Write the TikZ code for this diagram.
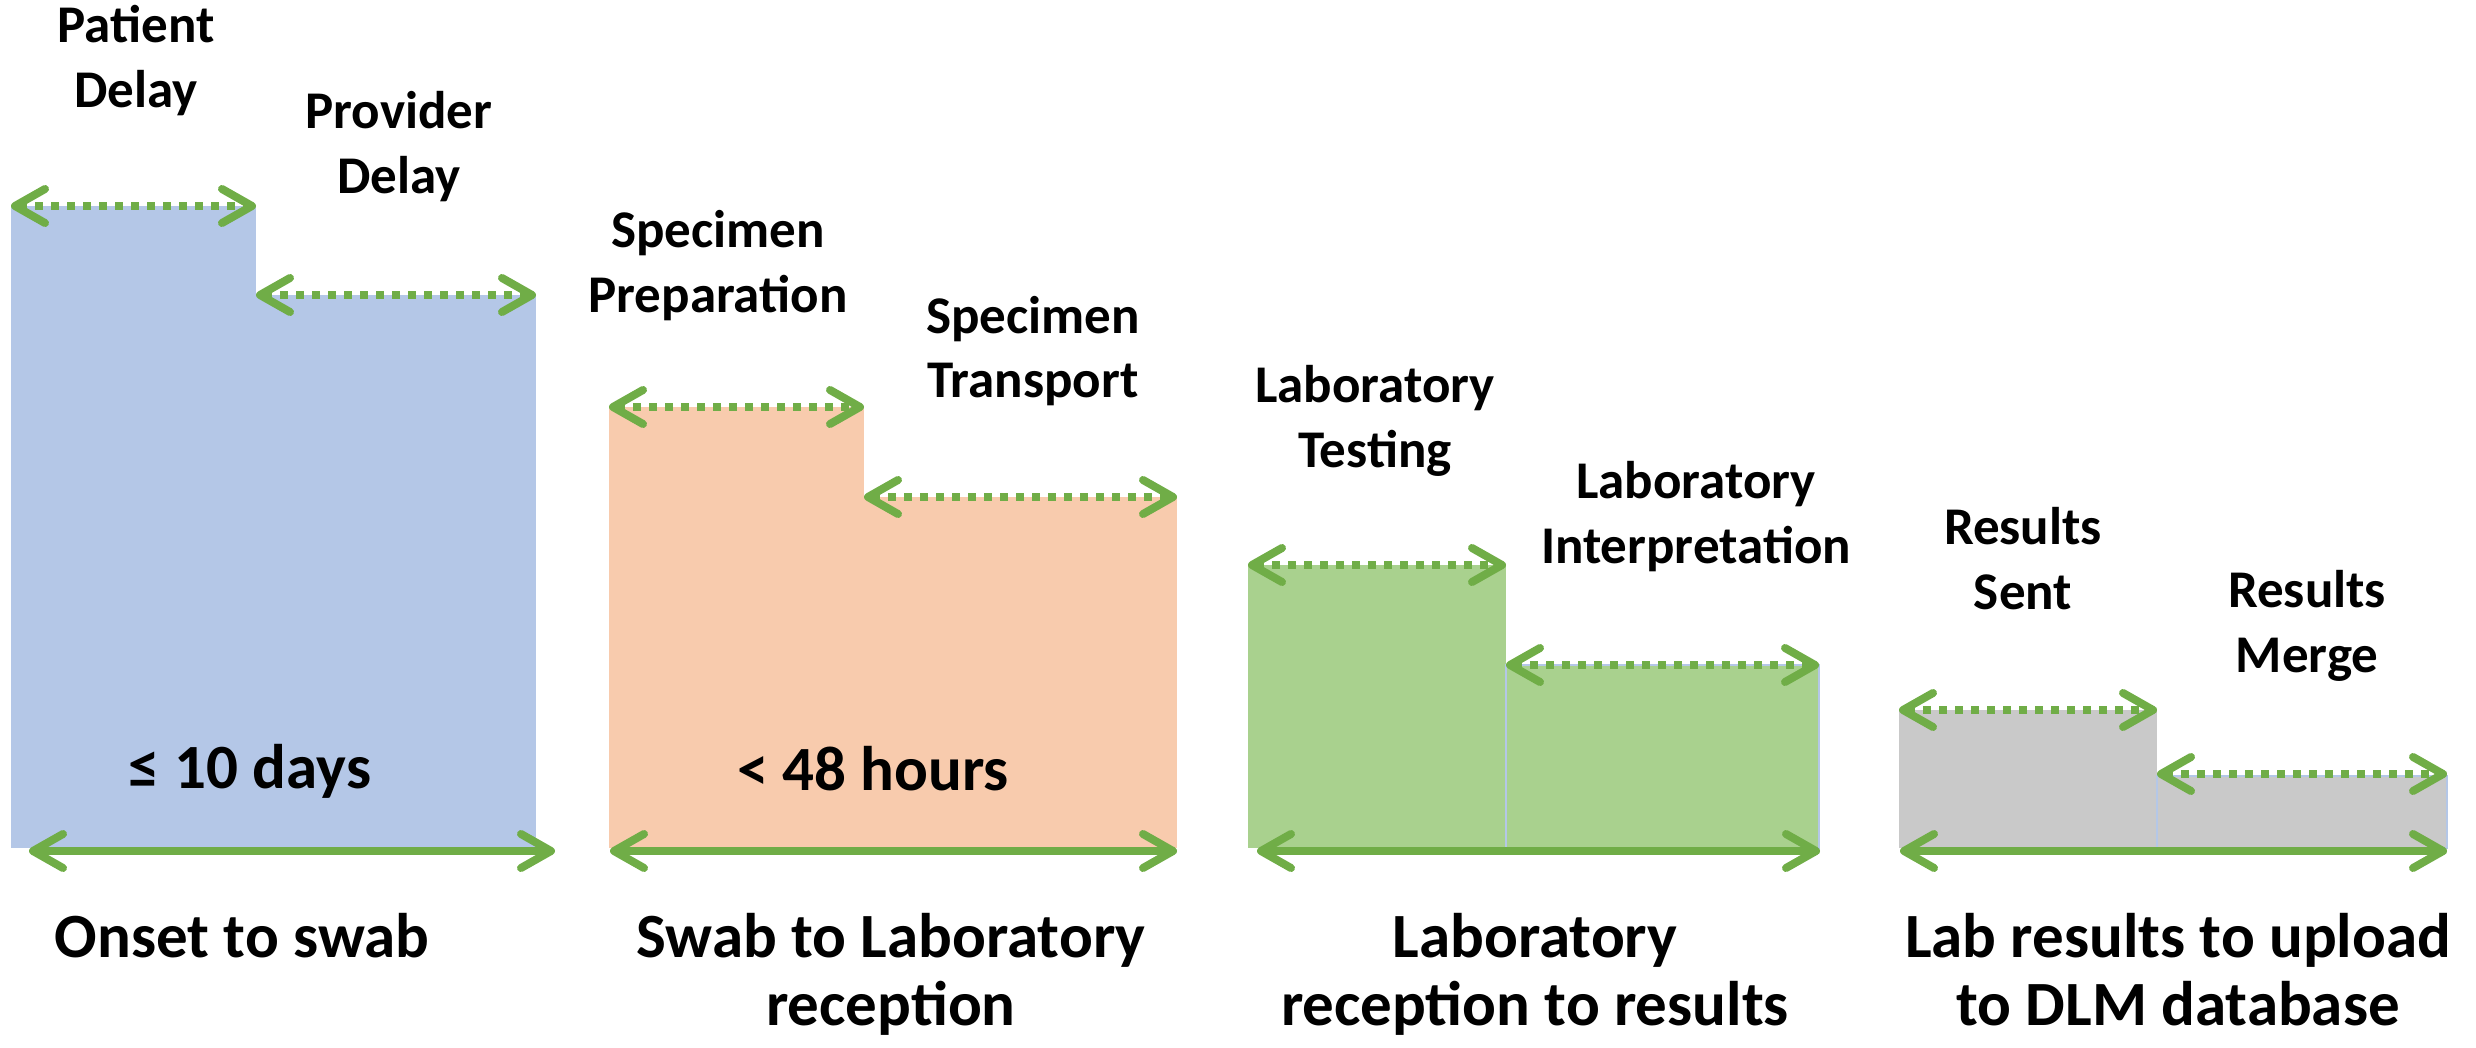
\documentclass[tikz,border=0pt]{standalone}
\usepackage{fontspec}
\setmainfont{Carlito}
\usetikzlibrary{arrows.meta}
\definecolor{blueF}{HTML}{B4C7E7}
\definecolor{orangeF}{HTML}{F8CBAD}
\definecolor{greenF}{HTML}{A9D18E}
\definecolor{grayF}{HTML}{C9C9C9}
\definecolor{arrowG}{HTML}{70AD47}
\definecolor{edgeB}{HTML}{B4C7E7}

\begin{document}
\begin{tikzpicture}[x=1pt,y=-1pt,
  barb/.tip={Straight Barb[length=30pt,width=34pt,round]},
  span/.style={draw=arrowG, line width=8pt, barb-barb},
  subspan/.style={span, dash pattern=on 8pt off 8pt},
  % multi-line labels are anchored on the baseline of their last line
  steplabel/.style={font=\fontsize{53}{65}\selectfont\bfseries, align=center, anchor=base, inner sep=0pt},
  grouplabel/.style={font=\fontsize{63}{68}\selectfont\bfseries, align=center, anchor=base, inner sep=0pt},
  bound/.style={font=\fontsize{63}{76}\selectfont\bfseries, anchor=base, inner sep=0pt},
  edged/.style={draw=edgeB, line width=1.5pt},
]
\useasboundingbox (0,0) rectangle (2476,1048);

% ---------- stepped bars ----------
% onset to swab
\fill[blueF] (11,206) rectangle (256,848);
\fill[blueF] (256,295) rectangle (536,848);
% swab to laboratory
\fill[orangeF] (609,407) rectangle (864,848);
\fill[orangeF] (864,497) rectangle (1177,848);
% laboratory
\fill[greenF] (1248,565) rectangle (1506,848);
\filldraw[fill=greenF, edged] (1506,665) rectangle (1819,848);
% results
\fill[grayF] (1899,710) rectangle (2157,848);
\filldraw[fill=grayF, edged] (2157,776) rectangle (2447,848);

% ---------- span end points ----------
\coordinate (pd1) at (11,206);   \coordinate (pd2) at (256,206);
\coordinate (vd1) at (256,295);  \coordinate (vd2) at (536,295);
\coordinate (on1) at (29,851);   \coordinate (on2) at (555,851);

\coordinate (sp1) at (609,407);  \coordinate (sp2) at (864,407);
\coordinate (st1) at (864,497);  \coordinate (st2) at (1177,497);
\coordinate (sw1) at (610,851);  \coordinate (sw2) at (1177,851);

\coordinate (lt1) at (1248,565); \coordinate (lt2) at (1506,565);
\coordinate (li1) at (1506,665); \coordinate (li2) at (1819,665);
\coordinate (lr1) at (1257,851); \coordinate (lr2) at (1820,851);

\coordinate (rs1) at (1899,710); \coordinate (rs2) at (2157,710);
\coordinate (rm1) at (2157,774); \coordinate (rm2) at (2447,774);
\coordinate (up1) at (1900,851); \coordinate (up2) at (2447,851);

% ---------- spans ----------
\draw[subspan] (pd1) -- (pd2);
\draw[subspan] (vd1) -- (vd2);
\draw[span] (on1) -- (on2);

\draw[subspan] (sp1) -- (sp2);
\draw[subspan] (st1) -- (st2);
\draw[span] (sw1) -- (sw2);

\draw[subspan] (lt1) -- (lt2);
\draw[subspan] (li1) -- (li2);
\draw[span] (lr1) -- (lr2);

\draw[subspan] (rs1) -- (rs2);
\draw[subspan] (rm1) -- (rm2);
\draw[span] (up1) -- (up2);

% ---------- step labels ----------
\node[steplabel] (lpd) at (136,108) {Patient\\Delay};
\node[steplabel] (lvd) at (399,194) {Provider\\Delay};
\node[steplabel] (lsp) at (718,313) {Specimen\\Preparation};
\node[steplabel] (lst) at (1033,398) {Specimen\\Transport};
\node[steplabel] (llt) at (1375,467) {Laboratory\\Testing};
\node[steplabel] (lli) at (1696,563) {Laboratory\\Interpretation};
\node[steplabel] (lrs) at (2023,609) {Results\\Sent};
\node[steplabel] (lrm) at (2307,672) {Results\\Merge};

% ---------- time bounds ----------
\node[bound] (b10) at (250,788) {≤ 10 days};
\node[bound] (b48) at (873,790) {< 48 hours};

% ---------- group labels ----------
\node[grouplabel] (gon) at (242,957)  {Onset to swab};
\node[grouplabel] (gsw) at (891,1025) {Swab to Laboratory\\reception};
\node[grouplabel] (glr) at (1535,1025) {Laboratory\\reception to results};
\node[grouplabel] (gup) at (2178,1025) {Lab results to upload\\to DLM database};
\end{tikzpicture}
\end{document}
